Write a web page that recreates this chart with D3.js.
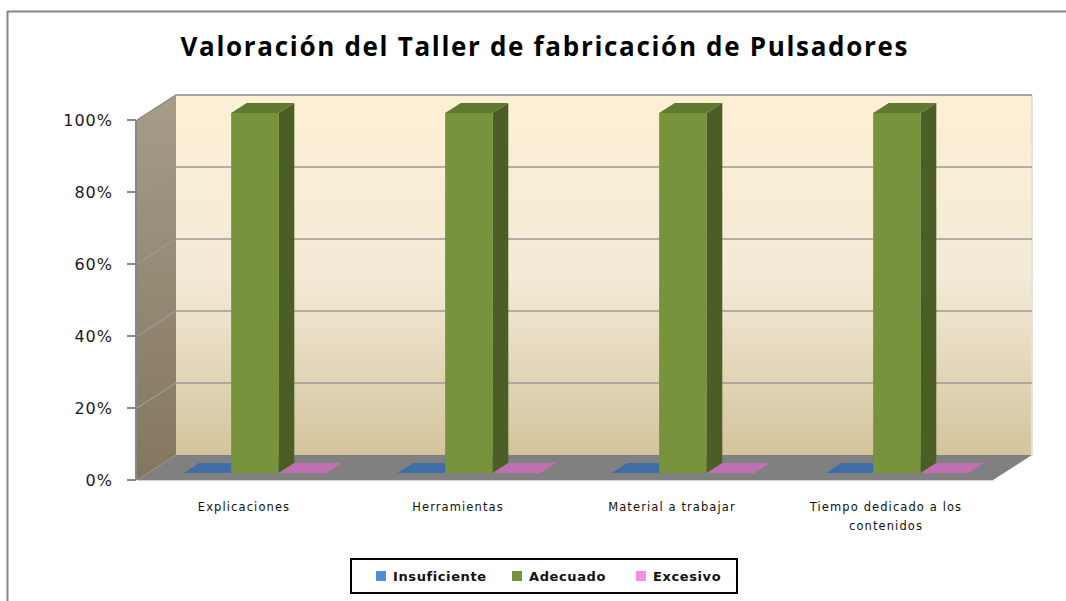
<!DOCTYPE html>
<html lang="es">
<head>
  <meta charset="UTF-8">
  <title>Valoración del Taller</title>
  <script src="https://d3js.org/d3.v7.min.js"></script>
  <style>
    body { margin: 0; background: #fff; }
    svg { display: block; }
    .tick-label { font-family: "DejaVu Sans", sans-serif; font-size: 16px; fill: #1a1a1a; letter-spacing: 1px; }
    .cat-label { font-family: "DejaVu Sans", sans-serif; font-size: 11.5px; fill: #111; letter-spacing: 1.1px; }
    .legend-text { font-family: "DejaVu Sans", sans-serif; font-size: 13px; font-weight: bold; fill: #111; letter-spacing: 0.6px; }
  </style>
</head>
<body>
<script>
// chart data
var categories = ["Explicaciones", "Herramientas", "Material a trabajar", "Tiempo dedicado a los contenidos"];
var catLines = [["Explicaciones"], ["Herramientas"], ["Material a trabajar"], ["Tiempo dedicado a los", "contenidos"]];
var series = ["Insuficiente", "Adecuado", "Excesivo"];
var insuficiente = [0, 0, 0, 0];
var adecuado = [1, 1, 1, 1];
var excesivo = [0, 0, 0, 0];
var yTicks = [0, 0.2, 0.4, 0.6, 0.8, 1];
var titleText = "Valoración del Taller de fabricación de Pulsadores";

var values = [insuficiente, adecuado, excesivo];

var width = 1066, height = 601;

// colours per series
var colors = [
  { front: "#4a7ebb", side: "#2f5584", top: "#3f6ea6", legend: "#558ed5" },
  { front: "#77933c", side: "#4b5e25", top: "#5e7a2e", legend: "#77933c" },
  { front: "#d27fc6", side: "#9a5591", top: "#c070b0", legend: "#f590e0" }
];

// 3d setup: front plane + depth vector
var depthX = 39, depthY = -25;
var x = d3.scaleBand().domain(categories).range([137, 993]);
var xs = d3.scaleBand().domain(series).range([0, x.bandwidth()]).paddingInner(0).paddingOuter(0.75);
var y = d3.scaleLinear().domain([0, 1]).range([480, 120]);
var z0 = 0.28, z1 = 0.68;

function proj(px, v, z) {
  return [px + z * depthX, y(v) + z * depthY];
}
function poly(pts) {
  return pts.map(function(p) { return p.join(","); }).join(" ");
}

var svg = d3.select("body").append("svg")
    .attr("width", width)
    .attr("height", height);

var defs = svg.append("defs");
var gBack = defs.append("linearGradient").attr("id", "backGrad")
    .attr("x1", 0).attr("y1", 0).attr("x2", 0).attr("y2", 1);
gBack.append("stop").attr("offset", "0%").attr("stop-color", "#fdefd4");
gBack.append("stop").attr("offset", "50%").attr("stop-color", "#f3ebd7");
gBack.append("stop").attr("offset", "100%").attr("stop-color", "#d3c49d");

var gSide = defs.append("linearGradient").attr("id", "sideGrad")
    .attr("x1", 0).attr("y1", 0).attr("x2", 0).attr("y2", 1);
gSide.append("stop").attr("offset", "0%").attr("stop-color", "#a69c89");
gSide.append("stop").attr("offset", "100%").attr("stop-color", "#82765e");

// outer border
svg.append("rect")
    .attr("x", 7.5).attr("y", 11.5)
    .attr("width", 1200).attr("height", 800)
    .attr("fill", "none").attr("stroke", "#868686").attr("stroke-width", 2);

// title
svg.append("text")
    .attr("x", 544).attr("y", 56)
    .attr("text-anchor", "middle")
    .attr("font-family", "'Open Sans', sans-serif")
    .attr("font-size", 26).attr("font-weight", "bold")
    .attr("fill", "#000")
    .attr("textLength", 727).attr("lengthAdjust", "spacing")
    .text(titleText);

var x0 = x.range()[0], x1 = x.range()[1];

// back wall
svg.append("polygon")
    .attr("points", poly([proj(x0, 1, 1), proj(x1, 1, 1), proj(x1, 0, 1), proj(x0, 0, 1)]))
    .attr("fill", "url(#backGrad)");
svg.append("line")
    .attr("x1", proj(x1, 1, 1)[0]).attr("y1", proj(x1, 1, 1)[1])
    .attr("x2", proj(x1, 0, 1)[0]).attr("y2", proj(x1, 0, 1)[1])
    .attr("stroke", "#e2e2e2").attr("stroke-width", 2);

// side wall
svg.append("polygon")
    .attr("points", poly([proj(x0, 0, 0), proj(x0, 1, 0), proj(x0, 1, 1), proj(x0, 0, 1)]))
    .attr("fill", "url(#sideGrad)");

// gridlines
yTicks.forEach(function(t) {
  if (t === 0) return;
  var a = proj(x0, t, 0), b = proj(x0, t, 1), c = proj(x1, t, 1);
  svg.append("polyline")
      .attr("points", poly([a, b, c]))
      .attr("fill", "none")
      .attr("stroke", t === 1 ? "#8a8a8a" : "#9c9a94")
      .attr("stroke-width", 1.3);
});

// floor
svg.append("polygon")
    .attr("points", poly([proj(x0, 0, 0), proj(x1, 0, 0), proj(x1, 0, 1), proj(x0, 0, 1)]))
    .attr("fill", "#808080");
svg.append("line")
    .attr("x1", x0).attr("y1", y(0) + 0.5).attr("x2", x1).attr("y2", y(0) + 0.5)
    .attr("stroke", "#d0d0d0").attr("stroke-width", 1);

// bars
categories.forEach(function(cat, ci) {
  series.forEach(function(s, si) {
    var v = values[si][ci];
    var bx0 = x(cat) + xs(s), bx1 = bx0 + xs.bandwidth();
    var c = colors[si];
    var g = svg.append("g").attr("class", "bar");
    if (v > 0) {
      g.append("polygon")
          .attr("points", poly([proj(bx0, 0, z0), proj(bx1, 0, z0), proj(bx1, v, z0), proj(bx0, v, z0)]))
          .attr("fill", c.front);
      g.append("polygon")
          .attr("points", poly([proj(bx1, 0, z0), proj(bx1, 0, z1), proj(bx1, v, z1), proj(bx1, v, z0)]))
          .attr("fill", c.side);
    }
    g.append("polygon")
        .attr("points", poly([proj(bx0, v, z0), proj(bx1, v, z0), proj(bx1, v, z1), proj(bx0, v, z1)]))
        .attr("fill", c.top);
  });
});

// y axis
svg.append("line")
    .attr("x1", 136).attr("y1", y(1)).attr("x2", 136).attr("y2", y(0))
    .attr("stroke", "#868686").attr("stroke-width", 2);
var yAxis = svg.append("g");
yTicks.forEach(function(t) {
  yAxis.append("line")
      .attr("x1", 127).attr("x2", 136).attr("y1", y(t)).attr("y2", y(t))
      .attr("stroke", "#868686").attr("stroke-width", 2);
  yAxis.append("text")
      .attr("class", "tick-label")
      .attr("x", 113).attr("y", y(t) + 6)
      .attr("text-anchor", "end")
      .text(d3.format(".0%")(t));
});

// category labels
categories.forEach(function(cat, ci) {
  var cx = x(cat) + x.bandwidth() / 2;
  var t = svg.append("text")
      .attr("class", "cat-label")
      .attr("text-anchor", "middle")
      .attr("x", cx).attr("y", 511);
  catLines[ci].forEach(function(line, li) {
    t.append("tspan").attr("x", cx).attr("dy", li === 0 ? 0 : 19).text(line);
  });
});

// legend
svg.append("rect")
    .attr("x", 351).attr("y", 559).attr("width", 386).attr("height", 34)
    .attr("fill", "#fff").attr("stroke", "#000").attr("stroke-width", 2);
var legendX = [376, 512, 636];
series.forEach(function(s, si) {
  svg.append("rect")
      .attr("x", legendX[si]).attr("y", 571)
      .attr("width", 10).attr("height", 10)
      .attr("fill", colors[si].legend);
  svg.append("text")
      .attr("class", "legend-text")
      .attr("x", legendX[si] + 17).attr("y", 581)
      .text(s);
});
</script>
</body>
</html>
